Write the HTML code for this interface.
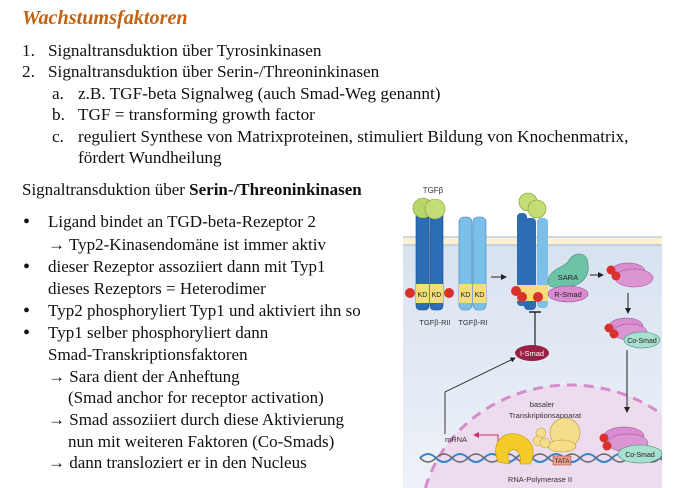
<!DOCTYPE html>
<html><head><meta charset="utf-8">
<style>
html,body{margin:0;padding:0;background:#fff;overflow:hidden;}
body{width:674px;height:488px;position:relative;overflow:hidden;font-family:"Liberation Serif",serif;color:#111;}
.t{position:absolute;font-size:17.2px;line-height:18px;white-space:nowrap;}
.b{font-size:17px;}
.d{font-size:20px;}
svg text{font-family:"Liberation Sans",sans-serif;}
</style></head><body>
<div class="t" style="left:22px;top:7px;font-size:20.2px;line-height:22px;font-weight:bold;font-style:italic;color:#c4620f;">Wachstumsfaktoren</div>

<div class="t" style="left:22px;top:42px;">1.</div>
<div class="t" style="left:48px;top:42px;">Signaltransduktion über Tyrosinkinasen</div>
<div class="t" style="left:22px;top:63px;">2.</div>
<div class="t" style="left:48px;top:63px;">Signaltransduktion über Serin-/Threoninkinasen</div>
<div class="t" style="left:52px;top:85px;">a.</div>
<div class="t" style="left:78px;top:85px;">z.B. TGF-beta Signalweg (auch Smad-Weg genannt)</div>
<div class="t" style="left:52px;top:106px;">b.</div>
<div class="t" style="left:78px;top:106px;">TGF = transforming growth factor</div>
<div class="t" style="left:52px;top:128px;">c.</div>
<div class="t" style="left:78px;top:128px;">reguliert Synthese von Matrixproteinen, stimuliert Bildung von Knochenmatrix,</div>
<div class="t" style="left:78px;top:149px;">fördert Wundheilung</div>

<div class="t b" style="left:22px;top:181px;">Signaltransduktion über <b>Serin-/Threoninkinasen</b></div>

<div class="t d" style="left:23px;top:213px;">•</div>
<div class="t b" style="left:48px;top:213px;">Ligand bindet an TGD-beta-Rezeptor 2</div>
<div class="t b" style="left:48px;top:236px;"><b>→</b> Typ2-Kinasendomäne ist immer aktiv</div>
<div class="t d" style="left:23px;top:258px;">•</div>
<div class="t b" style="left:48px;top:258px;">dieser Rezeptor assoziiert dann mit Typ1</div>
<div class="t b" style="left:48px;top:280px;">dieses Rezeptors = Heterodimer</div>
<div class="t d" style="left:23px;top:302px;">•</div>
<div class="t b" style="left:48px;top:302px;">Typ2 phosphoryliert Typ1 und aktiviert ihn so</div>
<div class="t d" style="left:23px;top:324px;">•</div>
<div class="t b" style="left:48px;top:324px;">Typ1 selber phosphoryliert dann</div>
<div class="t b" style="left:48px;top:346px;">Smad-Transkriptionsfaktoren</div>
<div class="t b" style="left:48px;top:368px;"><b>→</b> Sara dient der Anheftung</div>
<div class="t b" style="left:68px;top:389px;">(Smad anchor for receptor activation)</div>
<div class="t b" style="left:48px;top:411px;"><b>→</b> Smad assoziiert durch diese Aktivierung</div>
<div class="t b" style="left:68px;top:433px;">nun mit weiteren Faktoren (Co-Smads)</div>
<div class="t b" style="left:48px;top:454px;"><b>→</b> dann transloziert er in den Nucleus</div>

<svg style="position:absolute;left:0;top:0;overflow:hidden" width="674" height="488" viewBox="0 0 674 488">
<defs>
<linearGradient id="cyto" x1="0" y1="0" x2="0" y2="1"><stop offset="0" stop-color="#d8e2f0"/><stop offset="1" stop-color="#eef2f8"/></linearGradient>
<marker id="ah" markerWidth="6" markerHeight="6" refX="5" refY="3" orient="auto"><path d="M0,0L6,3L0,6z" fill="#222"/></marker>
<marker id="ahr" markerWidth="6" markerHeight="6" refX="5" refY="3" orient="auto"><path d="M0,0L6,3L0,6z" fill="#d0306a"/></marker>
<clipPath id="box"><rect x="403" y="237" width="259" height="251"/></clipPath>
</defs>
<g>
<rect x="403" y="245" width="259" height="243" fill="url(#cyto)"/>
<rect x="403" y="237" width="259" height="8" fill="#fbf2cf"/>
<line x1="403" y1="237" x2="662" y2="237" stroke="#9fb8dc" stroke-width="1"/>
<line x1="403" y1="245" x2="662" y2="245" stroke="#9fb8dc" stroke-width="1"/>
</g>
<g clip-path="url(#box)">
<ellipse cx="570" cy="525" rx="150" ry="140" fill="#ecdcee" stroke="#d58ccb" stroke-width="3" stroke-dasharray="10,7"/>
</g>
<text x="433" y="193" font-size="8" text-anchor="middle" fill="#333">TGFβ</text>
<g>
<rect x="416" y="212" width="13" height="98" rx="4" fill="#2c6db5" stroke="#1a4a8a" stroke-width="0.6"/>
<rect x="430" y="212" width="13" height="98" rx="4" fill="#2c6db5" stroke="#1a4a8a" stroke-width="0.6"/>
<rect x="416" y="284" width="13" height="19" fill="#f5dd7a"/><rect x="430" y="284" width="13" height="19" fill="#f5dd7a"/>
<text x="422.5" y="297" font-size="7" text-anchor="middle" fill="#222">KD</text><text x="436.5" y="297" font-size="7" text-anchor="middle" fill="#222">KD</text>
<circle cx="423" cy="208" r="10" fill="#b9d66a" stroke="#7a9a30" stroke-width="0.6"/>
<circle cx="435" cy="209" r="10" fill="#c3de74" stroke="#7a9a30" stroke-width="0.6"/>
<circle cx="410" cy="293" r="5" fill="#d9322e"/><circle cx="449" cy="293" r="5" fill="#d9322e"/>
</g>
<text x="435" y="325" font-size="7.5" text-anchor="middle" fill="#333">TGFβ-RII</text>
<g>
<rect x="459" y="217" width="13" height="93" rx="5" fill="#7cc0ea" stroke="#3b7fb8" stroke-width="0.6"/>
<rect x="473" y="217" width="13" height="93" rx="5" fill="#7cc0ea" stroke="#3b7fb8" stroke-width="0.6"/>
<rect x="459" y="284" width="13" height="19" fill="#f5dd7a"/><rect x="473" y="284" width="13" height="19" fill="#f5dd7a"/>
<text x="465.5" y="297" font-size="7" text-anchor="middle" fill="#222">KD</text><text x="479.5" y="297" font-size="7" text-anchor="middle" fill="#222">KD</text>
</g>
<text x="473" y="325" font-size="7.5" text-anchor="middle" fill="#333">TGFβ-RI</text>
<line x1="491" y1="277" x2="506" y2="277" stroke="#222" stroke-width="1" marker-end="url(#ah)"/>
<g>
<rect x="517" y="213" width="10" height="93" rx="4" fill="#2c6db5"/>
<rect x="537" y="218" width="11" height="90" rx="4" fill="#7cc0ea"/>
<rect x="524" y="218" width="12" height="92" rx="4" fill="#2c6db5"/>
<rect x="517" y="285" width="31" height="16" fill="#f5dd7a"/>
<circle cx="528" cy="202" r="9" fill="#c3de74" stroke="#7a9a30" stroke-width="0.6"/>
<circle cx="537" cy="209" r="9" fill="#c3de74" stroke="#7a9a30" stroke-width="0.6"/>
<circle cx="516" cy="291" r="5" fill="#d9322e"/><circle cx="522" cy="297" r="5" fill="#d9322e"/><circle cx="538" cy="297" r="5" fill="#d9322e"/>
</g>
<path d="M548,282 C548,270 562,268 568,262 C574,250 588,252 588,264 C590,276 582,286 566,287 C556,288 548,288 548,282Z" fill="#6ec2a8" stroke="#3f8f78" stroke-width="0.6"/>
<text x="568" y="280" font-size="7.5" text-anchor="middle" fill="#222">SARA</text>
<ellipse cx="568" cy="294" rx="20" ry="8" fill="#d98ccf" stroke="#9a4a90" stroke-width="0.6"/>
<text x="568" y="297" font-size="7.5" text-anchor="middle" fill="#222">R-Smad</text>
<line x1="590" y1="275" x2="603" y2="275" stroke="#222" stroke-width="1" marker-end="url(#ah)"/>
<g>
<ellipse cx="628" cy="271" rx="17" ry="8" fill="#d98ccf" stroke="#9a4a90" stroke-width="0.5"/>
<ellipse cx="634" cy="278" rx="19" ry="9" fill="#dc95d3" stroke="#9a4a90" stroke-width="0.5"/>
<circle cx="611" cy="270" r="4.5" fill="#d9322e"/><circle cx="616" cy="276" r="4.5" fill="#d9322e"/>
</g>
<line x1="628" y1="293" x2="628" y2="313" stroke="#222" stroke-width="1" marker-end="url(#ah)"/>
<g>
<ellipse cx="626" cy="326" rx="17" ry="8" fill="#d98ccf" stroke="#9a4a90" stroke-width="0.5"/>
<ellipse cx="630" cy="332" rx="17" ry="8" fill="#dc95d3" stroke="#9a4a90" stroke-width="0.5"/>
<ellipse cx="642" cy="340" rx="18" ry="8" fill="#a7e0cf" stroke="#3f8f78" stroke-width="0.6"/>
<circle cx="609" cy="328" r="4.5" fill="#d9322e"/><circle cx="614" cy="334" r="4.5" fill="#d9322e"/>
<text x="642" y="343" font-size="7" text-anchor="middle" fill="#222">Co-Smad</text>
</g>
<line x1="627" y1="350" x2="627" y2="412" stroke="#222" stroke-width="1" marker-end="url(#ah)"/>
<line x1="535" y1="312" x2="535" y2="346" stroke="#222" stroke-width="1.2"/>
<line x1="529" y1="312" x2="541" y2="312" stroke="#222" stroke-width="1.5"/>
<ellipse cx="532" cy="353" rx="17" ry="8" fill="#9a1f45"/>
<text x="532" y="356" font-size="7.5" text-anchor="middle" fill="#fff">I-Smad</text>
<polyline points="445,434 445,392 515,358" fill="none" stroke="#222" stroke-width="0.9" marker-end="url(#ah)"/>
<text x="542" y="407" font-size="7.5" text-anchor="middle" fill="#333">basaler</text>
<text x="545" y="418" font-size="7.5" text-anchor="middle" fill="#333">Transkriptionsapparat</text>
<text x="456" y="442" font-size="7.5" text-anchor="middle" fill="#333">mRNA</text>
<polyline points="498,448 498,435 474,435" fill="none" stroke="#d0306a" stroke-width="1" marker-end="url(#ahr)"/>
<g clip-path="url(#box)">
<path d="M420,458 q8,-8 16,0 t16,0 t16,0 t16,0 t16,0 t16,0 t16,0 t16,0 t16,0 t16,0 t16,0 t16,0 t16,0 t16,0 t16,0 t16,0" fill="none" stroke="#3d82c8" stroke-width="2"/>
<path d="M420,458 q8,8 16,0 t16,0 t16,0 t16,0 t16,0 t16,0 t16,0 t16,0 t16,0 t16,0 t16,0 t16,0 t16,0 t16,0 t16,0 t16,0" fill="none" stroke="#666" stroke-width="1.5"/>
</g>
<g>
<ellipse cx="565" cy="433" rx="15" ry="15" fill="#f5dd8a" stroke="#b89a40" stroke-width="0.6"/>
<ellipse cx="562" cy="446" rx="14" ry="6" fill="#f5dd8a" stroke="#b89a40" stroke-width="0.6"/>
<circle cx="541" cy="433" r="5" fill="#f5dd8a" stroke="#b89a40" stroke-width="0.5"/>
<circle cx="538" cy="441" r="5" fill="#f5dd8a" stroke="#b89a40" stroke-width="0.5"/>
<circle cx="545" cy="443" r="5" fill="#f5dd8a" stroke="#b89a40" stroke-width="0.5"/>
</g>
<path d="M498,462 C490,440 505,432 516,434 C530,436 538,450 530,464 L520,464 C522,454 516,448 512,450 C506,452 508,460 510,464Z" fill="#f3cc2a" stroke="#b8940a" stroke-width="0.6"/>
<rect x="553" y="456" width="18" height="9" fill="#f0a090" stroke="#a04030" stroke-width="0.5"/>
<text x="562" y="463" font-size="6.5" text-anchor="middle" fill="#222">TATA</text>
<text x="540" y="482" font-size="7.5" text-anchor="middle" fill="#333">RNA-Polymerase II</text>
<g>
<ellipse cx="624" cy="436" rx="20" ry="9" fill="#d98ccf" stroke="#9a4a90" stroke-width="0.5"/>
<ellipse cx="628" cy="443" rx="20" ry="9" fill="#dc95d3" stroke="#9a4a90" stroke-width="0.5"/>
<ellipse cx="640" cy="454" rx="22" ry="9" fill="#a7e0cf" stroke="#3f8f78" stroke-width="0.6"/>
<circle cx="604" cy="438" r="4.5" fill="#d9322e"/><circle cx="607" cy="446" r="4.5" fill="#d9322e"/>
<text x="640" y="457" font-size="7" text-anchor="middle" fill="#222">Co-Smad</text>
</g>
</svg>
</body></html>
